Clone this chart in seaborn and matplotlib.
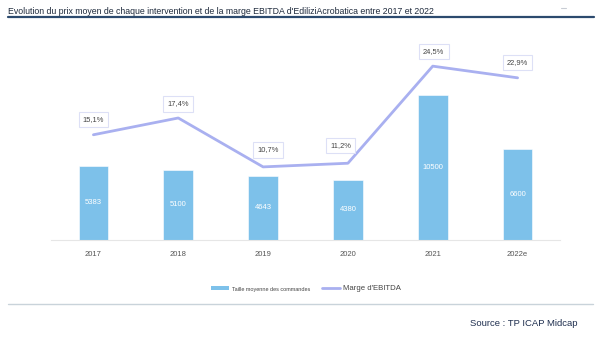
import matplotlib
matplotlib.use("Agg")
import matplotlib.pyplot as plt
import seaborn as sns
import pandas as pd
from matplotlib.patches import Patch
from matplotlib.lines import Line2D

years = ["2017", "2018", "2019", "2020", "2021", "2022e"]
taille = [5383, 5100, 4643, 4380, 10500, 6600]
marge = [15.1, 17.4, 10.7, 11.2, 24.5, 22.9]
marge_labels = ["15,1%", "17,4%", "10,7%", "11,2%", "24,5%", "22,9%"]

sns.set_theme(style="white")
plt.rcParams["font.family"] = ["Liberation Sans", "DejaVu Sans"]

BAR = "#7dc1ea"
LINE = "#a9b0f0"

fig = plt.figure(figsize=(6, 3.4), dpi=100)
W, H = 600, 340
ax = fig.add_axes([51 / W, 1 - 240 / H, (560 - 51) / W, 200 / H])

df = pd.DataFrame({"year": years, "taille": taille, "marge": marge})
sns.barplot(data=df, x="year", y="taille", color=BAR, width=0.35, ax=ax,
            saturation=1, edgecolor="white", linewidth=0.4)
ax.set_ylim(0, 200 / 0.0138)
ax.set_xlim(-0.5, 5.5)
for i, v in enumerate(taille):
    ax.text(i, v / 2, str(v), ha="center", va="center", color="white", fontsize=5.5)

ax2 = ax.twinx()
sns.lineplot(data=df, x="year", y="marge", color=LINE, linewidth=2.0, sort=False, ax=ax2)
ax2.set_ylim(5 / 7.3, 205 / 7.3)

offsets = [(0, 15), (0, 14), (5, 17), (-7, 18), (1, 15), (0, 15)]
for i, (v, lab) in enumerate(zip(marge, marge_labels)):
    ax2.annotate(lab, (i, v), xytext=offsets[i], textcoords="offset pixels",
                 ha="center", va="center", fontsize=5.4, color="#444444",
                 bbox=dict(boxstyle="square,pad=0.55", fc="white", ec="#dde0f6", lw=0.8))

for a in (ax, ax2):
    a.set_xlabel("")
    a.set_ylabel("")
    a.set_yticks([])
    for s in a.spines.values():
        s.set_visible(False)
ax.spines["bottom"].set_visible(True)
ax.spines["bottom"].set_color("#e6e6e6")
ax.spines["bottom"].set_linewidth(0.8)
ax.tick_params(axis="x", length=0, labelsize=5.5, labelcolor="#555555", pad=8)

# title
fig.text(8 / W, 1 - 12 / H, "Evolution du prix moyen de chaque intervention et de la marge EBITDA d'EdiliziAcrobatica entre 2017 et 2022",
         fontsize=6.3, color="#1e2a3c", va="center", ha="left")
fig.add_artist(Line2D([8 / W, 594 / W], [1 - 17 / H, 1 - 17 / H], color="#2c4a6e", lw=1.6))
fig.add_artist(Line2D([561 / W, 566 / W], [1 - 8 / H, 1 - 8 / H], color="#c8ccd4", lw=0.8))

# legend
handles = [Patch(facecolor=BAR, edgecolor="none"), Line2D([0], [0], color=LINE, lw=2.0)]
leg = fig.legend(handles, ["Taille moyenne des commandes", "Marge d'EBITDA"], loc="center",
                 bbox_to_anchor=(306 / W, 1 - 289 / H), ncol=2, frameon=False,
                 handlelength=2.2, handleheight=0.5, columnspacing=1.6, handletextpad=0.4,
                 fontsize=5.6)
leg.get_texts()[0].set_fontsize(4)
for t in leg.get_texts():
    t.set_color("#444444")

fig.add_artist(Line2D([8 / W, 593 / W], [1 - 304 / H, 1 - 304 / H], color="#c9d3da", lw=1.0))
fig.text(577 / W, 1 - 323 / H, "Source : TP ICAP Midcap", fontsize=6.8, color="#1f2f4f",
         ha="right", va="center")

fig.savefig("out.png", dpi=100)
